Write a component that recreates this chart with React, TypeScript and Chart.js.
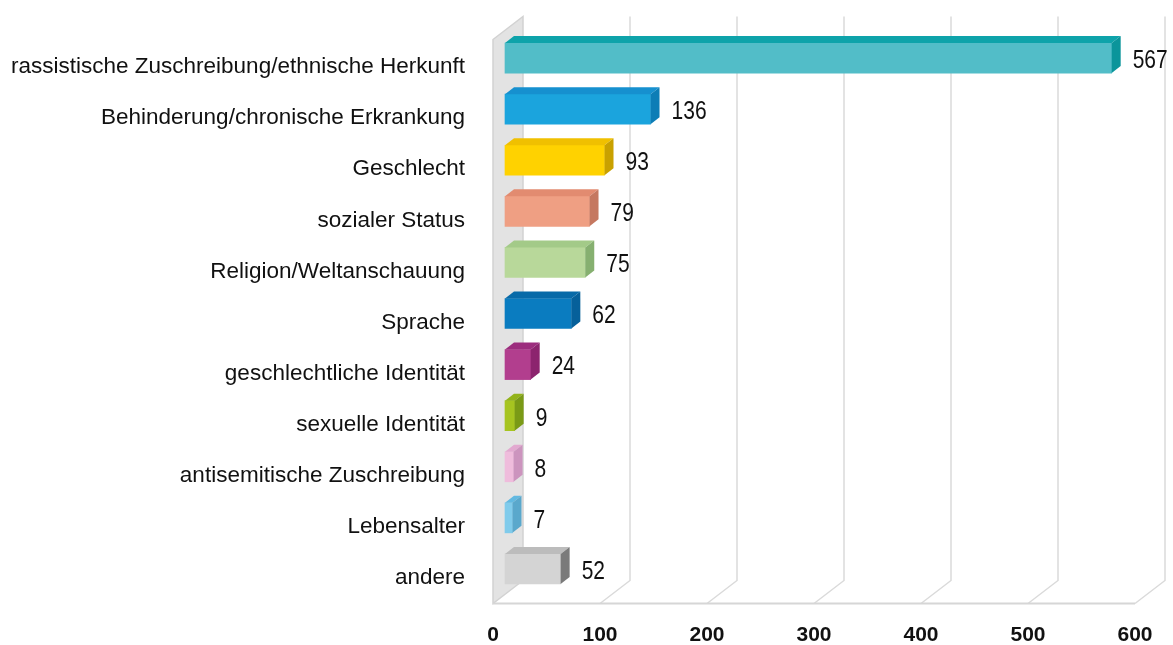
import React, { useEffect, useRef } from "react";
import { Chart, registerables } from "chart.js";

Chart.register(...registerables);

const categories = [
  "rassistische Zuschreibung/ethnische Herkunft",
  "Behinderung/chronische Erkrankung",
  "Geschlecht",
  "sozialer Status",
  "Religion/Weltanschauung",
  "Sprache",
  "geschlechtliche Identität",
  "sexuelle Identität",
  "antisemitische Zuschreibung",
  "Lebensalter",
  "andere",
];
const values = [567, 136, 93, 79, 75, 62, 24, 9, 8, 7, 52];
const xTickValues = [0, 100, 200, 300, 400, 500, 600];

const frontColors = [
  "#52bdc8", "#1ba4dd", "#ffd200", "#ef9f83", "#b8d89a", "#0a7cc0",
  "#b23e8e", "#a6c420", "#efbcdc", "#80cbeb", "#d4d4d4",
];
const topColors = [
  "#0ea3aa", "#1690cf", "#f0c000", "#e28b70", "#a3ca88", "#086aa8",
  "#9c2d7e", "#93b31a", "#e2a9d0", "#62b9e1", "#bcbcbc",
];
const sideColors = [
  "#0b959b", "#0d7db6", "#c9a100", "#c57860", "#86b070", "#06609a",
  "#8c246e", "#7a9a16", "#cc94be", "#5aa8cc", "#7a7a7a",
];

const WALL_DX = 30;
const WALL_DY = 23;
const BAR_SHIFT_X = 12;
const BAR_SHIFT_Y = 9;
const BAR_DX = 9;
const BAR_DY = 7;

const threeD = {
  id: "threeD",
  beforeDatasetsDraw(chart: any) {
    const { ctx, chartArea } = chart;
    const { left, top, bottom } = chartArea;
    const xs = chart.scales.x;
    ctx.save();
    ctx.beginPath();
    ctx.moveTo(left, top - 2);
    ctx.lineTo(left + WALL_DX, top - 2 - WALL_DY);
    ctx.lineTo(left + WALL_DX, bottom - WALL_DY);
    ctx.lineTo(left, bottom);
    ctx.closePath();
    ctx.fillStyle = "#e3e3e3";
    ctx.fill();
    ctx.strokeStyle = "#d2d2d2";
    ctx.lineWidth = 1.5;
    ctx.stroke();
    ctx.strokeStyle = "#dadada";
    ctx.lineWidth = 1.5;
    xTickValues.forEach((v) => {
      if (v === 0) return;
      const x = xs.getPixelForValue(v);
      ctx.beginPath();
      ctx.moveTo(x + WALL_DX, top - 2 - WALL_DY);
      ctx.lineTo(x + WALL_DX, bottom - WALL_DY);
      ctx.lineTo(x, bottom);
      ctx.stroke();
    });
    ctx.strokeStyle = "#d6d6d6";
    ctx.lineWidth = 2;
    ctx.beginPath();
    ctx.moveTo(left, bottom);
    ctx.lineTo(xs.getPixelForValue(600), bottom);
    ctx.stroke();
    ctx.restore();
    ctx.save();
    ctx.translate(BAR_SHIFT_X, -BAR_SHIFT_Y);
  },
  afterDatasetsDraw(chart: any) {
    const { ctx } = chart;
    ctx.restore();
    const meta = chart.getDatasetMeta(0);
    ctx.save();
    meta.data.forEach((el: any, i: number) => {
      const p = el.getProps(["x", "y", "base", "height"], true);
      const x0 = p.base + BAR_SHIFT_X;
      const x1 = p.x + BAR_SHIFT_X;
      const yT = p.y - p.height / 2 - BAR_SHIFT_Y;
      const yB = p.y + p.height / 2 - BAR_SHIFT_Y;
      ctx.beginPath();
      ctx.moveTo(x0, yT);
      ctx.lineTo(x0 + BAR_DX, yT - BAR_DY);
      ctx.lineTo(x1 + BAR_DX, yT - BAR_DY);
      ctx.lineTo(x1, yT);
      ctx.closePath();
      ctx.fillStyle = topColors[i];
      ctx.fill();
      ctx.beginPath();
      ctx.moveTo(x1, yT);
      ctx.lineTo(x1 + BAR_DX, yT - BAR_DY);
      ctx.lineTo(x1 + BAR_DX, yB - BAR_DY);
      ctx.lineTo(x1, yB);
      ctx.closePath();
      ctx.fillStyle = sideColors[i];
      ctx.fill();
      ctx.save();
      ctx.translate(x1 + BAR_DX + 12, (yT + yB) / 2 + 3);
      ctx.scale(0.84, 1);
      ctx.fillStyle = "#111111";
      ctx.font = "25px 'Liberation Sans', sans-serif";
      ctx.textAlign = "left";
      ctx.textBaseline = "middle";
      ctx.fillText(String(values[i]), 0, 0);
      ctx.restore();
    });
    ctx.restore();
  },
};

export default function App() {
  const ref = useRef<HTMLCanvasElement>(null);
  useEffect(() => {
    if (!ref.current) return;
    const chart = new Chart(ref.current, {
      type: "bar",
      data: {
        labels: categories,
        datasets: [
          {
            data: values,
            backgroundColor: frontColors,
            borderWidth: 0,
            barThickness: 30,
            clip: false as any,
          },
        ],
      },
      options: {
        indexAxis: "y",
        animation: false,
        responsive: false,
        devicePixelRatio: 1,
        layout: { padding: { top: 36, right: 38, left: 0, bottom: 0 } },
        plugins: { legend: { display: false }, tooltip: { enabled: false } },
        scales: {
          x: {
            min: 0,
            max: 600,
            afterBuildTicks: (s: any) => {
              s.ticks = xTickValues.map((v) => ({ value: v }));
            },
            afterFit: (s: any) => {
              s.height = 41;
            },
            grid: { display: false, drawTicks: false },
            border: { display: false },
            ticks: {
              color: "#111111",
              padding: 19,
              font: { family: "'Liberation Sans', sans-serif", size: 21, weight: "bold" },
            },
          },
          y: {
            afterFit: (s: any) => {
              s.width = 493;
            },
            grid: { display: false, drawTicks: false },
            border: { display: false },
            ticks: {
              color: "#111111",
              padding: 28,
              font: { family: "'Liberation Sans', sans-serif", size: 22.5 },
            },
          },
        },
      },
      plugins: [threeD],
    });
    return () => chart.destroy();
  }, []);
  return (
    <div style={{ position: "fixed", left: 0, top: 0, width: 1173, height: 645, background: "#fff" }}>
      <canvas ref={ref} width={1173} height={645} />
    </div>
  );
}
